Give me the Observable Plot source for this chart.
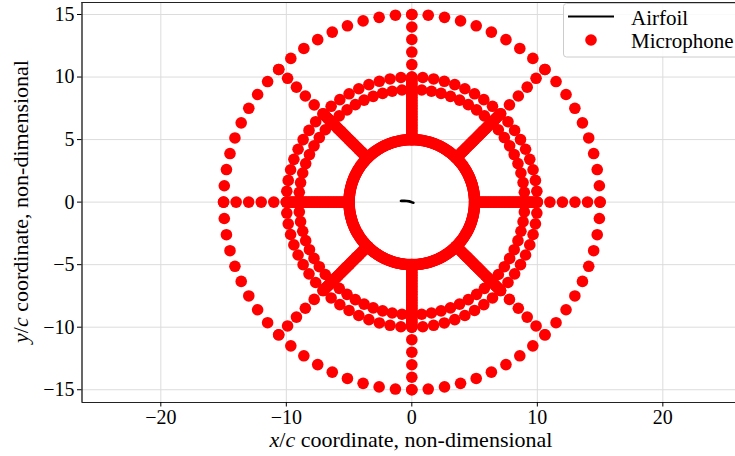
<!DOCTYPE html>
<html><head><meta charset="utf-8">
<script src="https://cdn.jsdelivr.net/npm/d3@7"></script>
<script src="https://cdn.jsdelivr.net/npm/@observablehq/plot@0.6"></script>
<style>
html,body{margin:0;padding:0;background:#fff;overflow:hidden}
#wrap{position:relative;width:735px;height:456px}
</style></head>
<body><div id="wrap"></div>
<script>
// ---- data ----
const ringRadii = [5, 9, 10, 15];          // microphone rings (x/c units)
const ringCounts = [360, 72, 72, 72];      // microphones per ring
const spokeAnglesDeg = [0, 45, 90, 135, 180, 225, 270, 315];
const spokeDenseRadii = [5, 5.125, 5.25, 5.375, 5.5, 5.625, 5.75, 5.875, 6, 6.125, 6.25, 6.375, 6.5, 6.625, 6.75, 6.875, 7, 7.125, 7.25, 7.375, 7.5, 7.625, 7.75, 7.875, 8, 8.125, 8.25, 8.375, 8.5, 8.625, 8.75, 8.875, 9, 9.125, 9.25, 9.375, 9.5, 9.625, 9.75, 9.875, 10];
const spokeOuterRadii = [11, 12, 13, 14, 15];
const airfoilX = [-0.88, -0.80, -0.60, -0.40, -0.20, -0.05, 0.05, 0.14, 0.05, -0.05, -0.20, -0.40, -0.60, -0.80, -0.88];
const airfoilY = [0.10, 0.12, 0.12, 0.11, 0.08, 0.03, -0.02, -0.06, -0.04, -0.01, 0.04, 0.07, 0.08, 0.08, 0.10];
const xTicks = [-20, -10, 0, 10, 20];
const yTicks = [-15, -10, -5, 0, 5, 10, 15];

// ---- build tables ----
const mics = [];
ringRadii.forEach((r, i) => {
  const n = ringCounts[i];
  for (let k = 0; k < n; k++) {
    const a = 2 * Math.PI * k / n;
    mics.push({x: r * Math.cos(a), y: r * Math.sin(a)});
  }
});
spokeAnglesDeg.forEach(d => {
  const a = d * Math.PI / 180;
  [...spokeDenseRadii, ...spokeOuterRadii].forEach(r => mics.push({x: r * Math.cos(a), y: r * Math.sin(a)}));
});
const airfoil = airfoilX.map((x, i) => ({x, y: airfoilY[i]}));

const xDom = [-26.28, 25.79];
const yDom = [-16.02, 15.96];
const font = "'Liberation Serif', 'Times New Roman', serif";

const chart = Plot.plot({
  width: 735, height: 456,
  marginLeft: 81.5, marginRight: 0, marginTop: 2, marginBottom: 54,
  style: {fontFamily: font, fontSize: "20px", color: "#000", background: "#fff"},
  x: {domain: xDom},
  y: {domain: yDom},
  marks: [
    Plot.gridX(xTicks, {stroke: "#dcdcdc", strokeOpacity: 1}),
    Plot.gridY(yTicks, {stroke: "#dcdcdc", strokeOpacity: 1}),
    Plot.line(airfoil, {x: "x", y: "y", stroke: "black", strokeWidth: 2.2}),
    Plot.dot(mics, {x: "x", y: "y", r: 5.8, fill: "#ff0000"}),
    Plot.ruleX([xDom[0]], {stroke: "black", strokeWidth: 1.2}),
    Plot.ruleY(yDom, {stroke: "#222", strokeWidth: 1.2}),
    Plot.axisX(xTicks, {tickSize: 4.5, tickPadding: 3, label: null, fontSize: 20}),
    Plot.axisY(yTicks, {tickSize: 4.5, tickPadding: 3, label: null, fontSize: 20})
  ]
});

const svg = d3.select(chart);
// axis labels
const xl = svg.append("text").attr("x", 411).attr("y", 447).attr("text-anchor", "middle")
  .style("font-family", font).style("font-size", "22px").attr("fill", "#000");
xl.append("tspan").style("font-style", "italic").text("x");
xl.append("tspan").text("/");
xl.append("tspan").style("font-style", "italic").text("c");
xl.append("tspan").text(" coordinate, non-dimensional");

const yl = svg.append("text").attr("transform", "translate(28,201.5) rotate(-90)").attr("text-anchor", "middle")
  .style("font-family", font).style("font-size", "22px").attr("fill", "#000");
yl.append("tspan").style("font-style", "italic").text("y");
yl.append("tspan").text("/");
yl.append("tspan").style("font-style", "italic").text("c");
yl.append("tspan").text(" coordinate, non-dimensional");

// legend
const lg = svg.append("g").attr("text-anchor", "start");
lg.append("rect").attr("x", 563.5).attr("y", 3.5).attr("width", 190).attr("height", 53.5)
  .attr("rx", 3).attr("fill", "rgba(255,255,255,0.85)").attr("stroke", "#cccccc");
lg.append("line").attr("x1", 568).attr("x2", 614).attr("y1", 16.5).attr("y2", 16.5)
  .attr("stroke", "black").attr("stroke-width", 2.2);
lg.append("circle").attr("cx", 591).attr("cy", 40).attr("r", 5.8).attr("fill", "#ff0000");
lg.append("text").attr("x", 631).attr("y", 25).attr("text-anchor", "start").text("Airfoil")
  .style("font-family", font).style("font-size", "21px").attr("fill", "#000");
lg.append("text").attr("x", 631).attr("y", 48).attr("text-anchor", "start").text("Microphone")
  .style("font-family", font).style("font-size", "21px").attr("fill", "#000");

document.getElementById("wrap").appendChild(chart);
</script>
</body></html>
